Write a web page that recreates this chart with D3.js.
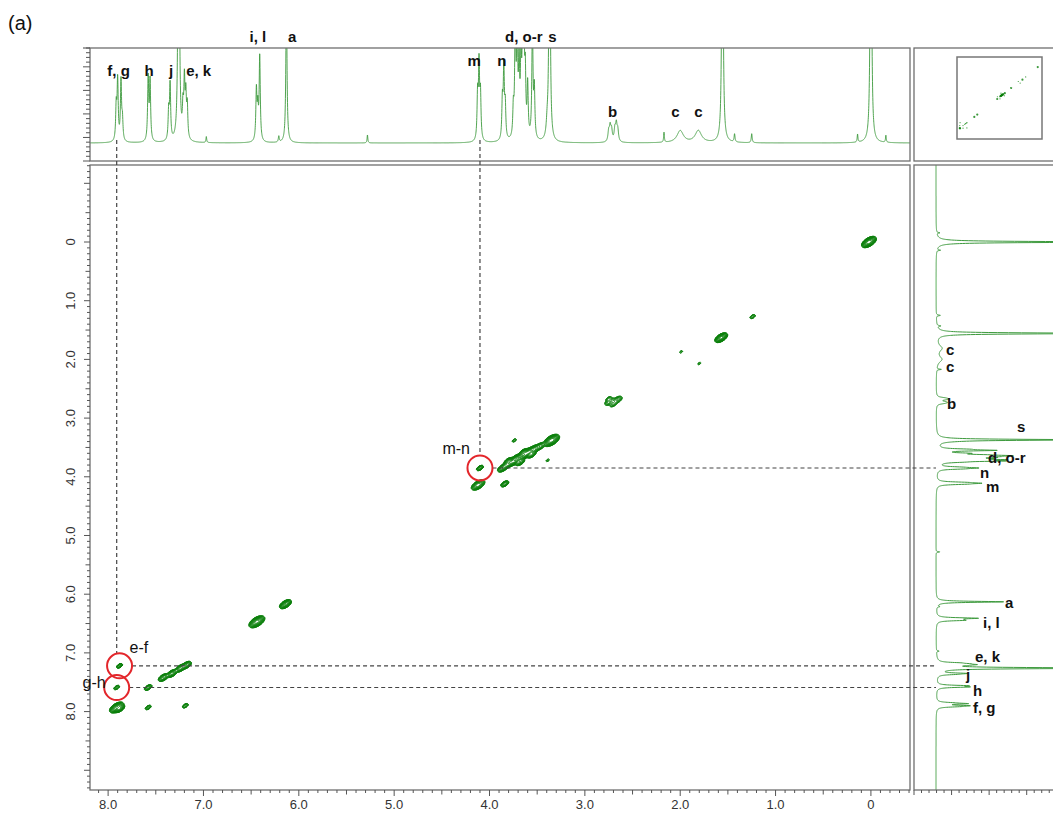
<!DOCTYPE html>
<html><head><meta charset="utf-8">
<script src="https://cdn.jsdelivr.net/npm/d3@7"></script>
<style>
body{margin:0;background:#fff}
svg{display:block;font-family:"Liberation Sans",Arial,sans-serif}
</style>
</head><body>
<svg id="c" width="1053" height="816"></svg>
<script>
// ---- 1H spectrum: line positions (ppm), heights, half-widths (ppm) ----
const linePpm    = [0.00, -0.157, 0.14, 1.25, 1.43, 1.557, 1.81, 2.00, 2.17,
                    2.75, 2.735, 2.72, 2.685, 2.67, 2.655,
                    3.37, 3.395, 3.53, 3.55, 3.60, 3.625, 3.64, 3.655, 3.67, 3.69, 3.71, 3.73, 3.75,
                    3.835, 3.85, 3.865, 4.095, 4.11, 4.125, 5.28,
                    6.13, 6.21, 6.41, 6.43, 6.445, 6.97,
                    7.17, 7.185, 7.20, 7.215, 7.26, 7.35, 7.365, 7.56, 7.58,
                    7.85, 7.865, 7.90, 7.915];
const lineHeight = [420, 7, 8, 9, 8, 380, 12, 12, 10,
                    10, 14, 11, 12, 16, 11,
                    330, 14, 48, 118, 52, 58, 112, 66, 74, 70, 108, 116, 28,
                    32, 70, 38, 44, 74, 44, 8,
                    150, 6, 84, 30, 50, 6,
                    32, 40, 55, 28, 420, 55, 28, 60, 63,
                    20, 60, 60, 34];
const lineWidth  = [0.006, 0.004, 0.004, 0.005, 0.005, 0.006, 0.035, 0.035, 0.004,
                    0.008, 0.008, 0.008, 0.008, 0.008, 0.008,
                    0.006, 0.01, 0.006, 0.006, 0.006, 0.006, 0.006, 0.006, 0.006, 0.006, 0.006, 0.006, 0.006,
                    0.006, 0.006, 0.006, 0.006, 0.006, 0.006, 0.004,
                    0.006, 0.005, 0.006, 0.006, 0.006, 0.004,
                    0.006, 0.006, 0.006, 0.006, 0.006, 0.006, 0.006, 0.006, 0.006,
                    0.006, 0.006, 0.006, 0.006];

// ---- COSY contour peaks: F2 (ppm), F1 (ppm), amplitude, linewidth (ppm) ----
const peakF2   = [0.02, 1.24, 1.57, 1.99, 1.80, 2.74, 2.66, 2.70, 2.75,
                  3.35, 3.47, 3.53, 3.58, 3.62, 3.66, 3.70, 3.74, 3.78, 3.82, 3.86,
                  3.56, 3.64, 3.72, 3.68, 3.80,
                  3.74, 3.39, 4.10, 3.84, 4.12,
                  6.14, 6.44,
                  7.88, 7.91, 7.91, 7.88, 7.58, 7.58, 7.19,
                  7.42, 7.33, 7.24, 7.18];
const peakF1   = [0.00, 1.27, 1.63, 1.87, 2.07, 2.72, 2.69, 2.76, 2.67,
                  3.38, 3.48, 3.53, 3.57, 3.61, 3.65, 3.69, 3.73, 3.76, 3.80, 3.85,
                  3.62, 3.58, 3.68, 3.75, 3.73,
                  3.38, 3.72, 3.85, 4.12, 4.14,
                  6.17, 6.47,
                  7.22, 7.59, 7.93, 7.95, 7.59, 7.93, 7.90,
                  7.42, 7.35, 7.26, 7.21];
const peakAmp  = [14, 0.7, 12, 0.35, 0.35, 1.3, 1.3, 0.9, 0.6,
                  14, 2.5, 5, 6, 6, 7, 6, 6, 5, 4, 4,
                  3, 3, 3.5, 3, 2.5,
                  0.5, 0.4, 2.5, 2.5, 6,
                  10, 12,
                  2.5, 0.9, 10, 6, 1.8, 1.0, 1.0,
                  3, 3.5, 3.5, 3];
const peakWidth = [0.024, 0.014, 0.021, 0.01, 0.01, 0.022, 0.022, 0.018, 0.015,
                   0.026, 0.02, 0.022, 0.022, 0.022, 0.022, 0.022, 0.022, 0.022, 0.02, 0.02,
                   0.018, 0.018, 0.018, 0.018, 0.018,
                   0.012, 0.01, 0.014, 0.016, 0.024,
                   0.02, 0.026,
                   0.012, 0.014, 0.024, 0.018, 0.016, 0.014, 0.014,
                   0.02, 0.02, 0.02, 0.02];

// ---- axis ticks ----
const ppmTicks = [8, 7, 6, 5, 4, 3, 2, 1, 0];
const ppmTickLabels = ["8.0", "7.0", "6.0", "5.0", "4.0", "3.0", "2.0", "1.0", "0"];

// ---- assignments ----
const topLabelText = ["f, g", "h", "j", "e, k", "i, l", "a", "m", "n", "d, o-r", "s", "b", "c", "c"];
const topLabelPpm  = [7.89, 7.57, 7.34, 7.05, 6.43, 6.07, 4.16, 3.87, 3.64, 3.34, 2.71, 2.05, 1.81];
const topLabelRow  = [1, 1, 1, 1, 0, 0, 2, 2, 0, 0, 3, 3, 3];

const sideLabelText = ["c", "c", "b", "s", "d, o-r", "n", "m", "a", "i, l", "e, k", "j", "h", "f, g"];
const sideLabelPpm  = [1.84, 2.13, 2.76, 3.15, 3.68, 3.94, 4.17, 6.15, 6.49, 7.07, 7.37, 7.65, 7.94];
const sideLabelX    = [946, 946, 947, 1017, 988, 980, 986, 1005, 983, 975, 966, 973, 973];

// cross-peak annotations: label, F2, F1
const crossText = ["e-f", "g-h", "m-n"];
const crossF2   = [7.88, 7.91, 4.10];
const crossF1   = [7.22, 7.59, 3.85];

// ---- layout ----
const svg = d3.select("#c");
const frameCol = "#6f6f6f", specCol = "#3d9a3d", contourCol = "#0a800a";
const main = {l: 90, r: 910, t: 165, b: 790};
const topP = {t: 48, b: 161};
const side = {l: 914, r: 1053};

const x = d3.scaleLinear().domain([8.19, -0.41]).range([main.l, main.r]);
const y = d3.scaleLinear().domain([-1.312, 9.336]).range([main.t, main.b]);
const yTop = d3.scaleLinear().domain([0, 95]).range([143, topP.t]);
const xSide = d3.scaleLinear().domain([0, 260]).range([936, side.r]);

function intensity(ppm, broaden) {
  let s = 0;
  for (let i = 0; i < linePpm.length; i++) {
    const d = (ppm - linePpm[i]) / (lineWidth[i] * broaden);
    s += lineHeight[i] / (1 + d * d);
  }
  return s;
}

// clip paths
const defs = svg.append("defs");
defs.append("clipPath").attr("id", "clipTop").append("rect")
  .attr("x", main.l).attr("y", topP.t).attr("width", main.r - main.l).attr("height", topP.b - topP.t);
defs.append("clipPath").attr("id", "clipSide").append("rect")
  .attr("x", side.l).attr("y", main.t).attr("width", side.r - side.l).attr("height", main.b - main.t);
defs.append("clipPath").attr("id", "clipMain").append("rect")
  .attr("x", main.l).attr("y", main.t).attr("width", main.r - main.l).attr("height", main.b - main.t);

// ---- top 1D trace ----
const topPts = [];
for (let px = main.l; px <= main.r; px += 0.1) topPts.push([px, yTop(intensity(x.invert(px), 1.15))]);
svg.append("path").attr("clip-path", "url(#clipTop)")
  .attr("d", d3.line()(topPts)).attr("fill", "none")
  .attr("stroke", specCol).attr("stroke-width", 0.9);

// ---- side 1D trace (vertical, same spectrum) ----
const sidePts = [];
for (let py = main.t; py <= main.b; py += 0.1) sidePts.push([xSide(intensity(y.invert(py), 1.7)), py]);
svg.append("path").attr("clip-path", "url(#clipSide)")
  .attr("d", d3.line()(sidePts)).attr("fill", "none")
  .attr("stroke", specCol).attr("stroke-width", 1);

// ---- 2D contours ----
const gw = main.r - main.l, gh = main.b - main.t;
const grid = new Float64Array(gw * gh);
const dx = x(1) - x(0), dy = y(1) - y(0);
const dl = Math.hypot(dx, dy);
const ux = dx / dl, uy = dy / dl;    // along diagonal
const vx = -uy, vy = ux;             // across diagonal
for (let k = 0; k < peakF2.length; k++) {
  const cx = x(peakF2[k]) - main.l, cy = y(peakF1[k]) - main.t;
  const su = peakWidth[k] * dl, sv = su * 0.5;
  const R = Math.ceil(4 * su);
  const x0 = Math.max(0, Math.floor(cx - R)), x1 = Math.min(gw - 1, Math.ceil(cx + R));
  const y0 = Math.max(0, Math.floor(cy - R)), y1 = Math.min(gh - 1, Math.ceil(cy + R));
  for (let j = y0; j <= y1; j++) {
    for (let i = x0; i <= x1; i++) {
      const px = i + 0.5 - cx, py = j + 0.5 - cy;
      const u = px * ux + py * uy, v = px * vx + py * vy;
      grid[j * gw + i] += peakAmp[k] * Math.exp(-(u * u / (2 * su * su) + v * v / (2 * sv * sv)));
    }
  }
}
const levels = d3.range(12).map(k => 0.1 * Math.pow(1.5, k));
const contours = d3.contours().size([gw, gh]).thresholds(levels)(grid);
svg.append("g").attr("clip-path", "url(#clipMain)")
  .append("g").attr("transform", `translate(${main.l},${main.t})`)
  .selectAll("path").data(contours).join("path")
  .attr("d", d3.geoPath()).attr("fill", "none")
  .attr("stroke", contourCol).attr("stroke-width", 1);

// ---- frames ----
const frames = [
  [main.l, topP.t, main.r, topP.b],
  [main.l, main.t, main.r, main.b],
  [side.l, topP.t, side.r + 2, topP.b],
  [side.l, main.t, side.r + 2, main.b]
];
svg.append("g").selectAll("rect").data(frames).join("rect")
  .attr("x", d => d[0]).attr("y", d => d[1])
  .attr("width", d => d[2] - d[0]).attr("height", d => d[3] - d[1])
  .attr("fill", "none").attr("stroke", frameCol).attr("stroke-width", 1.3);
svg.append("line").attr("x1", 83).attr("x2", main.l).attr("y1", topP.t).attr("y2", topP.t)
  .attr("stroke", frameCol).attr("stroke-width", 1.3);

// ---- bottom axis ----
const axG = svg.append("g").attr("stroke", "#555").attr("stroke-width", 1);
d3.range(-0.4, 8.2, 0.1).forEach(v => {
  const r = Math.round(v * 10);
  const len = r % 10 === 0 ? 6 : (r % 5 === 0 ? 4.5 : 3);
  axG.append("line").attr("x1", x(v)).attr("x2", x(v)).attr("y1", main.b).attr("y2", main.b + len);
});
const sideRuler = d3.scaleLinear().domain([0, 18.5]).range([side.l, side.r]);
d3.range(0, 19).forEach(v => {
  axG.append("line").attr("x1", sideRuler(v)).attr("x2", sideRuler(v))
    .attr("y1", main.b).attr("y2", main.b + (v % 5 === 0 ? 5 : 3));
});
svg.append("g").selectAll("text").data(ppmTicks).join("text")
  .attr("x", d => x(d)).attr("y", 809).attr("text-anchor", "middle")
  .attr("font-size", 13).attr("fill", "#333")
  .text((d, i) => ppmTickLabels[i]);

// ---- left axis ----
d3.range(-1.3, 9.34, 0.1).forEach(v => {
  const r = Math.round(v * 10);
  const len = r % 10 === 0 ? 6 : (r % 5 === 0 ? 4.5 : 3);
  axG.append("line").attr("x1", main.l - len).attr("x2", main.l).attr("y1", y(v)).attr("y2", y(v));
});
svg.append("g").selectAll("text").data(ppmTicks).join("text")
  .attr("transform", d => `translate(75,${y(d)}) rotate(-90)`)
  .attr("text-anchor", "middle").attr("font-size", 13).attr("fill", "#333")
  .text((d, i) => ppmTickLabels[i]);

// ruler beside the top trace
const topRuler = d3.scaleLinear().domain([0, 24]).range([topP.b, topP.t]);
d3.range(0, 25).forEach(v => {
  axG.append("line").attr("x1", main.l - (v % 5 === 0 ? 7 : 4)).attr("x2", main.l)
    .attr("y1", topRuler(v)).attr("y2", topRuler(v));
});

// ---- thumbnail of the full 2D map ----
const box = {l: 957, r: 1042, t: 57, b: 139};
svg.append("rect").attr("x", box.l).attr("y", box.t)
  .attr("width", box.r - box.l).attr("height", box.b - box.t)
  .attr("fill", "#fff").attr("stroke", "#777").attr("stroke-width", 1.5);
const xi = d3.scaleLinear().domain(x.domain()).range([box.l, box.r]);
const yi = d3.scaleLinear().domain(y.domain()).range([box.t, box.b]);
svg.append("g").selectAll("circle").data(d3.range(peakF2.length)).join("circle")
  .attr("cx", k => xi(peakF2[k])).attr("cy", k => yi(peakF1[k]))
  .attr("r", k => peakAmp[k] > 4 ? 1.1 : 0.6)
  .attr("fill", contourCol).attr("opacity", 0.8);

// ---- connecting dashed lines and circles ----
const dash = svg.append("g").attr("stroke", "#444").attr("stroke-width", 1.2)
  .attr("stroke-dasharray", "4,3").attr("fill", "none");
const cr = 12.5;
dash.append("line").attr("x1", x(7.91)).attr("x2", x(7.91)).attr("y1", 140).attr("y2", y(crossF1[0]) - cr);
dash.append("line").attr("x1", x(4.10)).attr("x2", x(4.10)).attr("y1", 140).attr("y2", y(crossF1[2]) - cr);
crossF2.forEach((f2, i) => {
  dash.append("line").attr("x1", x(f2) + cr).attr("x2", xSide(0))
    .attr("y1", y(crossF1[i])).attr("y2", y(crossF1[i]));
});
svg.append("g").selectAll("circle").data(crossF2).join("circle")
  .attr("cx", d => x(d)).attr("cy", (d, i) => y(crossF1[i])).attr("r", cr)
  .attr("fill", "none").attr("stroke", "#e3262b").attr("stroke-width", 2);

const crossDx = [10, -11, -10], crossDy = [-13, 0, -14], crossAnchor = ["start", "end", "end"];
svg.append("g").selectAll("text").data(crossText).join("text")
  .attr("x", (d, i) => x(crossF2[i]) + crossDx[i]).attr("y", (d, i) => y(crossF1[i]) + crossDy[i])
  .attr("text-anchor", (d, i) => crossAnchor[i])
  .attr("font-size", 16).attr("fill", "#111").text(d => d);

// ---- assignment labels ----
const rowY = [42, 76, 66, 117];
svg.append("g").selectAll("text").data(topLabelText).join("text")
  .attr("x", (d, i) => x(topLabelPpm[i])).attr("y", (d, i) => rowY[topLabelRow[i]])
  .attr("text-anchor", "middle").attr("font-size", 15).attr("font-weight", "bold")
  .attr("fill", "#111").text(d => d);
svg.append("g").selectAll("text").data(sideLabelText).join("text")
  .attr("x", (d, i) => sideLabelX[i]).attr("y", (d, i) => y(sideLabelPpm[i]) + 5)
  .attr("font-size", 15).attr("font-weight", "bold")
  .attr("fill", "#111").text(d => d);

svg.append("text").attr("x", 8).attr("y", 30).attr("font-size", 20).attr("fill", "#111").text("(a)");
</script>
</body></html>
